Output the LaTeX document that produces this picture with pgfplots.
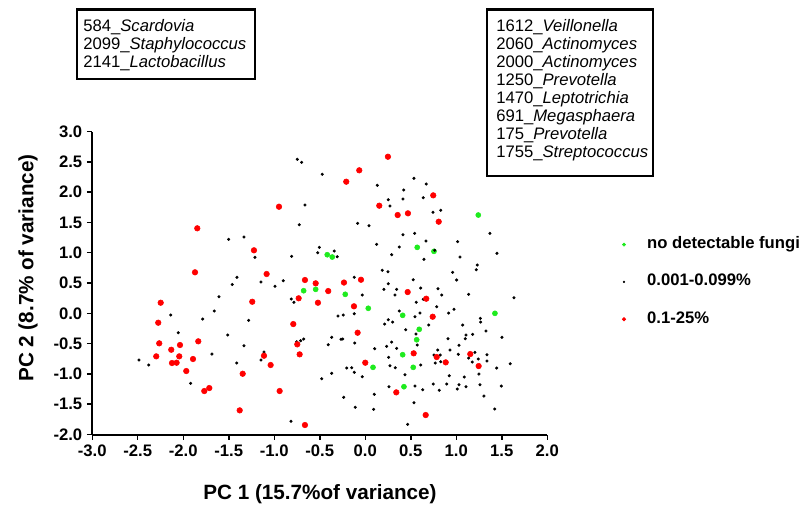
\documentclass[border=0pt]{standalone}
\usepackage{fontspec}
\setmainfont{Liberation Sans}
\usepackage{pgfplots}
\pgfplotsset{compat=1.18}

\definecolor{fgreen}{RGB}{30,235,30}
\definecolor{fred}{RGB}{255,0,0}

\begin{document}
\begin{tikzpicture}
\useasboundingbox (0,0) rectangle (604.5pt,379.5pt);

\begin{axis}[
  at={(69.2pt,53.6pt)}, anchor=south west,
  scale only axis, width=341.25pt, height=227.25pt,
  xmin=-3, xmax=2, ymin=-2, ymax=3,
  axis x line*=bottom, axis y line*=left,
  axis line style={line width=1.5pt},
  major tick style={line width=1.1pt, black},
  major tick length=4pt, tick align=outside,
  xtick={-3,-2.5,-2,-1.5,-1,-0.5,0,0.5,1,1.5,2},
  xticklabels={-3.0,-2.5,-2.0,-1.5,-1.0,-0.5,0.0,0.5,1.0,1.5,2.0},
  ytick={-2,-1.5,-1,-0.5,0,0.5,1,1.5,2,2.5,3},
  yticklabels={-2.0,-1.5,-1.0,-0.5,0.0,0.5,1.0,1.5,2.0,2.5,3.0},
  ticklabel style={font=\fontsize{12.5}{14}\selectfont\bfseries},
  legend style={at={(1.164,0.663)}, anchor=north west, draw=none, fill=none,
    inner sep=0pt, row sep=12pt,
    font=\fontsize{12.5}{14}\selectfont\bfseries,
    nodes={text height=9pt, text depth=3pt},
    /tikz/every odd column/.append style={column sep=14pt}},
  legend cell align=left,
  legend image code/.code={\draw[#1, scale=0.65] plot coordinates {(0pt,0pt)};},
]
% no detectable fungi
\addplot[only marks, mark=*, mark size=1.9pt, color=fgreen] coordinates {
(-0.677,0.373) (-0.545,0.396) (-0.418,0.967) (-0.363,0.929) (0.571,1.089)
(0.755,1.023) (1.242,1.622) (-0.220,0.314) (0.033,0.083) (0.411,-0.033)
(1.425,0.000) (0.593,-0.264) (0.565,-0.436) (0.411,-0.683) (0.085,-0.891)
(0.527,-0.891) (0.425,-1.211)};
\addlegendentry{no detectable fungi}
% 0.001-0.099%
\addplot[only marks, mark=*, mark size=0.95pt, color=black] coordinates {
(-0.747,2.541) (-0.699,2.492) (-0.663,1.787) (-0.725,1.462) (-1.501,1.221)
(-1.333,1.259) (-1.212,0.924) (-0.809,0.941) (-0.505,1.089) (-0.523,1.000)
(-1.410,0.594) (-1.462,0.475) (-1.146,0.517) (-0.901,0.538) (-0.473,2.294)
(-0.992,0.446) (-2.138,-0.028) (-1.608,0.274) (-1.659,0.038) (-1.787,-0.094)
(-0.813,0.236) (-0.784,0.182) (-1.281,-0.116) (-2.055,-0.320) (-1.512,-0.358)
(-1.333,-0.535) (-0.754,-0.469) (-0.710,-0.452) (-0.677,-0.424) (-1.685,-0.672)
(-1.113,-0.639) (-1.146,-0.771) (-2.487,-0.771) (-2.380,-0.853) (-1.413,-0.820)
(-1.919,-1.155) (-0.816,-1.782) (-0.479,-1.079) (0.535,2.228) (0.670,2.134)
(0.132,2.112) (0.422,2.035) (0.253,1.875) (0.414,1.886) (0.637,1.908)
(0.271,1.771) (0.744,1.667) (0.829,1.700) (-0.084,1.485) (0.041,1.446)
(0.414,1.297) (0.543,1.320) (1.370,1.320) (0.125,1.139) (0.374,1.094)
(0.667,1.193) (1.015,1.182) (0.763,1.040) (0.290,0.967) (0.645,0.891)
(1.041,0.929) (1.447,0.990) (-0.341,1.028) (-0.308,0.934) (0.187,0.710)
(0.249,0.686) (1.231,0.797) (1.220,0.719) (0.960,0.677) (1.004,0.550)
(0.527,0.554) (0.253,0.488) (-0.121,0.594) (-0.033,0.302) (0.205,0.396)
(0.345,0.396) (0.326,0.302) (0.609,0.417) (0.799,0.406) (0.840,0.302)
(1.136,0.314) (1.634,0.257) (0.560,0.182) (0.637,0.231) (0.785,0.109)
(0.975,0.066) (-0.300,-0.045) (-0.242,-0.028) (-0.121,-0.007) (0.374,0.038)
(0.546,-0.056) (0.601,0.005) (0.916,0.005) (1.264,-0.083) (1.268,-0.144)
(1.326,-0.292) (0.213,-0.177) (0.253,-0.106) (0.301,-0.144) (0.697,-0.193)
(1.070,-0.193) (0.444,-0.271) (0.557,-0.342) (1.107,-0.358) (1.180,-0.347)
(-0.369,-0.396) (-0.267,-0.429) (-0.248,-0.424) (-0.116,-0.490) (0.909,-0.419)
(1.099,-0.419) (1.502,-0.396) (-0.407,-0.518) (0.290,-0.474) (0.571,-0.523)
(1.030,-0.528) (0.103,-0.584) (0.235,-0.545) (0.345,-0.578) (0.796,-0.606)
(0.931,-0.606) (1.022,-0.677) (1.205,-0.644) (0.257,-0.726) (0.755,-0.688)
(0.824,-0.688) (1.337,-0.683) (1.136,-0.738) (1.176,-0.804) (1.242,-0.754)
(1.337,-0.787) (0.769,-0.820) (0.829,-0.799) (1.593,-0.832) (0.271,-0.865)
(0.330,-0.898) (0.609,-0.853) (1.444,-0.903) (-0.204,-0.903) (-0.149,-0.898)
(-0.121,-0.974) (-0.369,-0.990) (-0.033,-1.046) (0.436,-1.013) (0.923,-1.030)
(1.088,-1.051) (1.249,-1.002) (0.260,-1.211) (0.546,-1.200) (0.747,-1.167)
(0.895,-1.167) (0.813,-1.271) (1.011,-1.249) (1.030,-1.178) (1.107,-1.211)
(1.260,-1.178) (1.495,-1.200) (0.631,-1.261) (-0.237,-1.386) (0.099,-1.337)
(1.304,-1.365) (-0.110,-1.551) (0.092,-1.584) (0.535,-1.475) (1.422,-1.579)
(0.466,-1.832)};
\addlegendentry{0.001-0.099\%}
% 0.1-25%
\addplot[only marks, mark=*, mark size=2.1pt, color=fred] coordinates {
(-0.948,1.759) (-1.846,1.403) (-1.223,1.040) (-1.871,0.677) (-1.084,0.649)
(-0.663,0.550) (-0.545,0.495) (-2.248,0.175) (-0.732,0.248) (-0.520,0.175)
(-1.242,0.191) (-2.275,-0.155) (-0.791,-0.177) (-2.264,-0.495) (-2.036,-0.523)
(-1.835,-0.462) (-2.132,-0.601) (-0.747,-0.512) (-2.297,-0.710) (-2.044,-0.710)
(-1.893,-0.754) (-1.113,-0.700) (-0.721,-0.677) (-2.124,-0.820) (-2.073,-0.815)
(-1.040,-0.853) (-1.967,-0.952) (-1.347,-0.997) (-1.769,-1.282) (-1.714,-1.233)
(-0.941,-1.282) (-1.380,-1.601) (-0.663,-1.843) (0.249,2.584) (-0.066,2.360)
(-0.209,2.172) (0.747,1.947) (0.154,1.776) (0.356,1.622) (0.469,1.650)
(0.807,1.512) (-0.234,0.508) (-0.047,0.554) (-0.407,0.368) (0.466,0.351)
(-0.124,0.116) (0.670,0.241) (0.741,-0.056) (-0.084,-0.320) (0.532,-0.660)
(0.785,-0.721) (1.154,-0.672) (0.884,-0.809) (1.246,-0.870) (0.000,-0.815)
(0.341,-1.304) (0.664,-1.678)};
\addlegendentry{0.1-25\%}
\end{axis}

% axis titles
\node[rotate=90, font=\fontsize{15.5}{18}\selectfont\bfseries] at (21pt,178.5pt) {PC 2 (8.7\% of variance)};
\node[font=\fontsize{15.5}{18}\selectfont\bfseries] at (240pt,9pt) {PC 1 (15.7\%of variance)};

% annotation boxes
\draw[line width=2pt] (57.75pt,320.25pt) rectangle (191.25pt,372.5pt);
\begin{scope}[every node/.style={anchor=west, inner sep=0pt, text height=9pt, text depth=2.5pt, font=\fontsize{12.5}{14}\selectfont}]
\node at (62.25pt,359.0pt) {584\_\textit{Scardovia}};
\node at (62.25pt,345.5pt) {2099\_\textit{Staphylococcus}};
\node at (62.25pt,332.0pt) {2141\_\textit{Lactobacillus}};
\end{scope}

\draw[line width=2pt] (365.25pt,247.5pt) rectangle (489.75pt,372.5pt);
\begin{scope}[every node/.style={anchor=west, inner sep=0pt, text height=9pt, text depth=2.5pt, font=\fontsize{12.5}{14}\selectfont}]
\node at (372pt,359.0pt) {1612\_\textit{Veillonella}};
\node at (372pt,345.5pt) {2060\_\textit{Actinomyces}};
\node at (372pt,332.0pt) {2000\_\textit{Actinomyces}};
\node at (372pt,318.5pt) {1250\_\textit{Prevotella}};
\node at (372pt,305.0pt) {1470\_\textit{Leptotrichia}};
\node at (372pt,291.5pt) {691\_\textit{Megasphaera}};
\node at (372pt,278.0pt) {175\_\textit{Prevotella}};
\node at (372pt,264.5pt) {1755\_\textit{Streptococcus}};
\end{scope}
\end{tikzpicture}
\end{document}
